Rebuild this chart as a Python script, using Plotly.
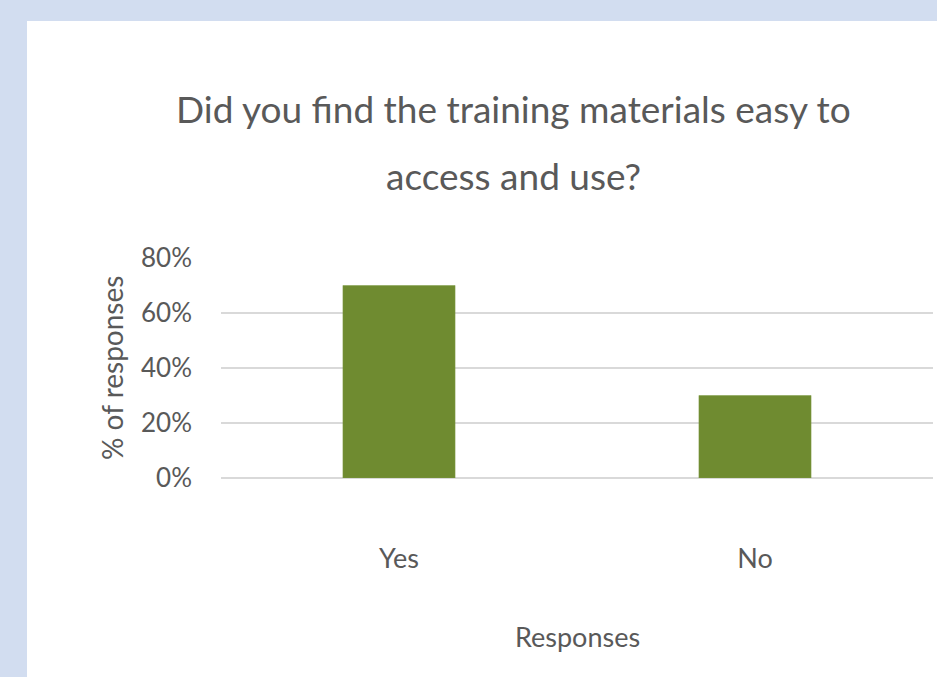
import plotly.graph_objects as go

categories = ["Yes", "No"]
values = [0.70, 0.30]
y_ticks = [0, 0.2, 0.4, 0.6, 0.8]
y_tick_labels = ["0%", "20%", "40%", "60%", "80%"]
title_lines = ["Did you find the training materials easy to", "access and use?"]
x_title = "Responses"
y_title = "% of responses"

W, H = 937, 677
L, R, T, B = 221, 4, 258, 199
pw, ph = W - L - R, H - T - B

def px_x(x):
    return (x - L) / pw

def px_y(y):
    return (H - B - y) / ph

fig = go.Figure(go.Bar(
    x=categories, y=values,
    marker=dict(color="#6f8b30", line=dict(color="#7f9a45", width=0.5)),
    width=0.315,
))

grey = "#595959"
fig.update_layout(
    width=W, height=H,
    margin=dict(l=L, r=R, t=T, b=B),
    paper_bgcolor="#d2ddf0",
    plot_bgcolor="rgba(0,0,0,0)",
    showlegend=False,
    shapes=[dict(type="rect", xref="paper", yref="paper",
                 x0=px_x(27), x1=px_x(960), y0=px_y(700), y1=px_y(21),
                 fillcolor="white", line=dict(width=0), layer="below")],
    xaxis=dict(showgrid=False, showline=False, zeroline=False, ticks="",
               tickfont=dict(family="Lato", size=27, color=grey),
               ticklabelstandoff=62, range=[-0.5, 1.5]),
    yaxis=dict(range=[0, 0.8], tickvals=y_ticks, ticktext=y_tick_labels,
               showgrid=True, gridcolor="#d9d9d9", gridwidth=1.5,
               zeroline=True, zerolinecolor="#d9d9d9", zerolinewidth=1.5,
               showline=False, ticks="",
               tickfont=dict(family="Lato", size=26, color=grey),
               ticklabelstandoff=28),
)

ann_font = dict(family="Lato", color=grey)
fig.add_annotation(text=title_lines[0], xref="paper", yref="paper",
                   x=px_x(513), y=px_y(108), xanchor="center", yanchor="middle",
                   showarrow=False, font=dict(size=37, **ann_font))
fig.add_annotation(text=title_lines[1], xref="paper", yref="paper",
                   x=px_x(513), y=px_y(175), xanchor="center", yanchor="middle",
                   showarrow=False, font=dict(size=37, **ann_font))
fig.add_annotation(text=x_title, xref="paper", yref="paper",
                   x=px_x(577), y=px_y(636), xanchor="center", yanchor="middle",
                   showarrow=False, font=dict(size=27, **ann_font))
fig.add_annotation(text=y_title, xref="paper", yref="paper", textangle=-90,
                   x=px_x(112), y=px_y(368), xanchor="center", yanchor="middle",
                   showarrow=False, font=dict(size=28, **ann_font))

fig.write_html("out.html", config={"displayModeBar": False},
               post_script="document.body.style.margin='0';")
